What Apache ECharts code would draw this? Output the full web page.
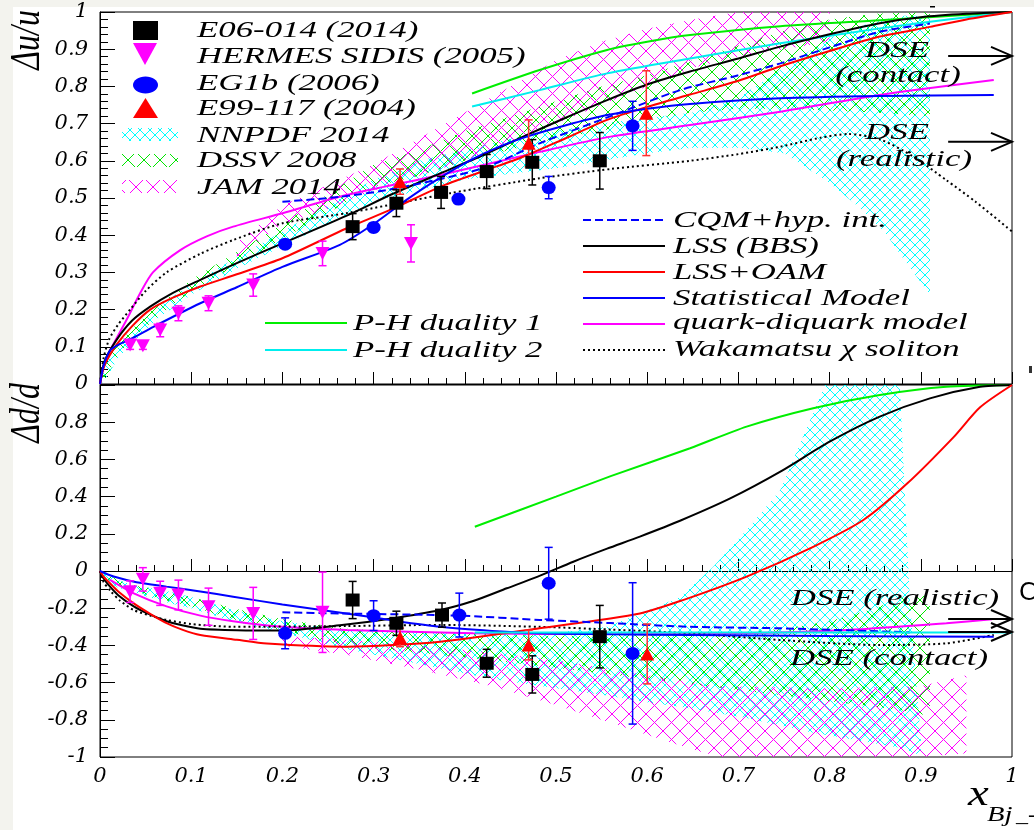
<!DOCTYPE html>
<html><head><meta charset="utf-8">
<script src="https://cdn.jsdelivr.net/npm/echarts@6/dist/echarts.min.js"></script>
<style>html,body{margin:0;padding:0;background:#f3f3ee}#c{width:1034px;height:830px}</style>
</head><body><div id="c"></div>
<script>
// ================= DATA: upper panel (Δu/u) =================
// experimental points: [x, value, error]
const e06_u    = [[0.277,0.423,0.035],[0.325,0.486,0.036],[0.374,0.515,0.043],[0.424,0.571,0.046],[0.474,0.596,0.061],[0.548,0.600,0.076]];
const hermes_u = [[0.033,0.105,0.012],[0.047,0.103,0.010],[0.066,0.145,0.018],[0.086,0.190,0.020],[0.119,0.217,0.020],[0.168,0.266,0.030],[0.244,0.351,0.033],[0.341,0.378,0.050]];
const eg1b_u   = [[0.203,0.376,0.010],[0.300,0.421,0.012],[0.393,0.497,0.012],[0.492,0.528,0.030],[0.584,0.694,0.066]];
const e99_u    = [[0.329,0.544,0.034],[0.470,0.647,0.063],[0.599,0.728,0.114]];
// model curves: [x, value]
const lssBBS_u = [[0,0],[0.005,0.06],[0.018,0.118],[0.035,0.17],[0.055,0.208],[0.08,0.245],[0.11,0.28],[0.15,0.325],[0.2,0.378],[0.27,0.452],[0.32,0.51],[0.373,0.566],[0.42,0.615],[0.464,0.665],[0.51,0.715],[0.556,0.763],[0.6,0.805],[0.647,0.84],[0.7,0.875],[0.746,0.907],[0.8,0.94],[0.855,0.97],[0.9,0.986],[0.95,0.995],[1,1]];
const lssOAM_u = [[0,0],[0.005,0.05],[0.018,0.105],[0.035,0.155],[0.055,0.2],[0.08,0.232],[0.11,0.262],[0.15,0.295],[0.2,0.338],[0.27,0.418],[0.32,0.47],[0.373,0.53],[0.42,0.572],[0.464,0.611],[0.51,0.66],[0.556,0.71],[0.6,0.745],[0.647,0.778],[0.7,0.815],[0.746,0.854],[0.8,0.895],[0.855,0.934],[0.91,0.96],[0.95,0.98],[1,1]];
const cqm_u    = [[0.2,0.49],[0.263,0.503],[0.325,0.526],[0.42,0.58],[0.482,0.647],[0.56,0.72],[0.636,0.79],[0.7,0.83],[0.746,0.862],[0.8,0.905],[0.855,0.947],[0.91,0.969]];
const stat_u   = [[0,0],[0.004,0.05],[0.011,0.09],[0.02,0.105],[0.037,0.125],[0.058,0.153],[0.11,0.217],[0.15,0.26],[0.2,0.315],[0.263,0.374],[0.3,0.43],[0.336,0.495],[0.37,0.55],[0.409,0.605],[0.44,0.64],[0.468,0.665],[0.51,0.695],[0.556,0.723],[0.6,0.74],[0.647,0.753],[0.746,0.768],[0.855,0.774],[0.98,0.777]];
const qd_u     = [[0,0],[0.004,0.05],[0.011,0.09],[0.029,0.172],[0.044,0.244],[0.058,0.3],[0.088,0.36],[0.117,0.397],[0.146,0.423],[0.2,0.459],[0.27,0.508],[0.373,0.562],[0.482,0.624],[0.56,0.665],[0.647,0.696],[0.746,0.732],[0.855,0.777],[0.98,0.817]];
const wak_u    = [[0,0],[0.004,0.07],[0.01,0.12],[0.02,0.16],[0.033,0.2],[0.05,0.25],[0.073,0.3],[0.11,0.35],[0.146,0.387],[0.2,0.432],[0.27,0.459],[0.384,0.513],[0.482,0.553],[0.56,0.578],[0.647,0.6],[0.7,0.618],[0.746,0.638],[0.79,0.662],[0.82,0.672],[0.855,0.658],[0.892,0.611],[0.928,0.548],[0.96,0.49],[1,0.41]];
const ph1_u    = [[0.408,0.781],[0.482,0.844],[0.556,0.898],[0.6,0.92],[0.647,0.938],[0.746,0.962],[0.855,0.978],[1,1]];
const ph2_u    = [[0.408,0.746],[0.482,0.79],[0.556,0.835],[0.647,0.875],[0.746,0.916],[0.855,0.956],[0.93,0.98],[1,1]];
// uncertainty bands: [x, low, high]
const nnpdf_u  = [[0.003,0.0,0.05],[0.02,0.07,0.1],[0.04,0.12,0.15],[0.06,0.17,0.2],[0.1,0.24,0.27],[0.15,0.31,0.34],[0.2,0.37,0.41],[0.25,0.43,0.48],[0.3,0.49,0.55],[0.35,0.52,0.6],[0.4,0.55,0.63],[0.45,0.565,0.66],[0.5,0.58,0.68],[0.55,0.6,0.7],[0.6,0.62,0.715],[0.65,0.635,0.73],[0.7,0.635,0.77],[0.75,0.62,0.85],[0.8,0.54,0.93],[0.83,0.48,0.96],[0.86,0.41,0.98],[0.88,0.34,0.99],[0.91,0.24,0.99]];
const dssv_u   = [[0.003,0.0,0.06],[0.02,0.08,0.11],[0.04,0.13,0.16],[0.06,0.175,0.205],[0.1,0.25,0.28],[0.15,0.32,0.355],[0.2,0.39,0.43],[0.25,0.46,0.51],[0.3,0.53,0.59],[0.35,0.56,0.63],[0.4,0.6,0.68],[0.45,0.63,0.72],[0.5,0.66,0.76],[0.55,0.68,0.8],[0.6,0.71,0.83],[0.65,0.73,0.87],[0.7,0.74,0.91],[0.75,0.74,0.95],[0.8,0.735,0.98],[0.85,0.73,0.995],[0.91,0.72,1.0]];
const jam_u    = [[0.15,0.34,0.38],[0.2,0.43,0.48],[0.25,0.47,0.535],[0.3,0.52,0.59],[0.35,0.56,0.66],[0.4,0.6,0.73],[0.45,0.65,0.8],[0.5,0.7,0.87],[0.55,0.75,0.92],[0.6,0.8,0.955],[0.65,0.85,0.98],[0.7,0.88,1.0],[0.75,0.9,1.0],[0.8,0.92,1.0]];
// DSE predictions at x→1: [x start, x end, value]
const dse_u    = [[0.93,1,0.882],[0.93,1,0.651]];

// ================= DATA: lower panel (Δd/d) =================
const e06_d    = [[0.277,-0.156,0.100],[0.325,-0.281,0.065],[0.375,-0.237,0.065],[0.424,-0.496,0.075],[0.474,-0.556,0.100],[0.548,-0.353,0.168]];
const hermes_d = [[0.033,-0.111,0.058],[0.047,-0.045,0.063],[0.066,-0.120,0.065],[0.086,-0.129,0.080],[0.119,-0.192,0.100],[0.168,-0.228,0.140],[0.244,-0.222,0.216]];
const eg1b_d   = [[0.203,-0.335,0.083],[0.300,-0.240,0.080],[0.394,-0.237,0.118],[0.492,-0.066,0.193],[0.584,-0.443,0.380]];
const e99_d    = [[0.329,-0.357,0.050],[0.470,-0.398,0.080],[0.600,-0.446,0.161]];
const lssBBS_d = [[0,0],[0.004,-0.04],[0.011,-0.084],[0.02,-0.13],[0.037,-0.19],[0.055,-0.235],[0.073,-0.27],[0.09,-0.292],[0.11,-0.31],[0.15,-0.318],[0.2,-0.32],[0.263,-0.292],[0.32,-0.255],[0.373,-0.21],[0.41,-0.16],[0.446,-0.093],[0.48,-0.03],[0.519,0.05],[0.556,0.12],[0.592,0.185],[0.636,0.27],[0.691,0.39],[0.746,0.534],[0.8,0.695],[0.855,0.83],[0.91,0.928],[0.965,0.99],[1,1]];
const lssOAM_d = [[0,0],[0.004,-0.03],[0.011,-0.066],[0.02,-0.11],[0.037,-0.174],[0.055,-0.23],[0.073,-0.28],[0.09,-0.315],[0.11,-0.344],[0.15,-0.37],[0.183,-0.39],[0.27,-0.407],[0.373,-0.38],[0.482,-0.308],[0.592,-0.228],[0.64,-0.155],[0.709,-0.03],[0.782,0.13],[0.837,0.274],[0.885,0.47],[0.936,0.72],[0.965,0.88],[1,1]];
const cqm_d    = [[0.2,-0.222],[0.263,-0.228],[0.394,-0.24],[0.482,-0.263],[0.56,-0.28],[0.647,-0.3],[0.746,-0.308],[0.888,-0.33]];
const stat_d   = [[0,0],[0.015,-0.03],[0.04,-0.06],[0.073,-0.084],[0.11,-0.11],[0.146,-0.138],[0.2,-0.18],[0.27,-0.228],[0.32,-0.265],[0.373,-0.3],[0.43,-0.322],[0.482,-0.335],[0.56,-0.34],[0.647,-0.344],[0.8,-0.35],[0.98,-0.353]];
const qd_d     = [[0.011,-0.048],[0.037,-0.12],[0.073,-0.19],[0.11,-0.24],[0.146,-0.27],[0.2,-0.3],[0.27,-0.317],[0.409,-0.335],[0.556,-0.339],[0.7,-0.335],[0.82,-0.317],[0.928,-0.281],[0.978,-0.26]];
const wak_d    = [[0,0],[0.004,-0.06],[0.012,-0.11],[0.022,-0.16],[0.037,-0.21],[0.055,-0.24],[0.073,-0.263],[0.1,-0.285],[0.146,-0.3],[0.27,-0.296],[0.373,-0.29],[0.482,-0.3],[0.56,-0.315],[0.647,-0.335],[0.746,-0.371],[0.855,-0.398],[0.928,-0.389],[0.98,-0.344]];
const ph1_d    = [[0.411,0.238],[0.5,0.4],[0.56,0.51],[0.647,0.66],[0.709,0.776],[0.782,0.875],[0.855,0.946],[0.928,0.99],[1,1]];
const ph2_d    = [[0.411,-0.33],[1,-0.33]];
const nnpdf_d  = [[0.003,-0.04,0.0],[0.02,-0.09,-0.05],[0.04,-0.12,-0.08],[0.066,-0.16,-0.1],[0.1,-0.2,-0.14],[0.146,-0.27,-0.21],[0.2,-0.33,-0.27],[0.27,-0.42,-0.32],[0.35,-0.5,-0.33],[0.43,-0.58,-0.34],[0.5,-0.63,-0.33],[0.556,-0.67,-0.3],[0.592,-0.7,-0.23],[0.636,-0.73,-0.14],[0.672,-0.76,0.02],[0.709,-0.79,0.22],[0.746,-0.83,0.435],[0.782,-0.87,0.85],[0.795,-0.88,1.0],[0.877,-0.95,1.0],[0.888,-0.97,-0.16],[0.9,-0.99,-0.9]];
const dssv_d   = [[0.003,-0.03,0.0],[0.02,-0.08,-0.05],[0.04,-0.11,-0.08],[0.066,-0.15,-0.1],[0.1,-0.19,-0.14],[0.146,-0.26,-0.2],[0.2,-0.32,-0.26],[0.27,-0.4,-0.31],[0.35,-0.44,-0.33],[0.43,-0.48,-0.34],[0.5,-0.52,-0.35],[0.6,-0.58,-0.34],[0.7,-0.64,-0.33],[0.75,-0.67,-0.31],[0.8,-0.7,-0.27],[0.85,-0.73,-0.2],[0.88,-0.75,-0.14],[0.91,-0.78,-0.13]];
const jam_d    = [[0.2,-0.4,-0.35],[0.27,-0.45,-0.37],[0.35,-0.53,-0.4],[0.43,-0.62,-0.44],[0.5,-0.72,-0.48],[0.55,-0.8,-0.52],[0.6,-0.88,-0.56],[0.65,-0.96,-0.6],[0.68,-1.0,-0.62],[0.8,-1.0,-0.63],[0.9,-1.0,-0.62],[0.95,-0.98,-0.56]];
const dse_d    = [[0.93,1,-0.258],[0.93,1,-0.328]];

// axis tick values
const xTicks = [0,0.1,0.2,0.3,0.4,0.5,0.6,0.7,0.8,0.9,1];

// ================= RENDERING =================
function hatch(color, s) {
  const c = document.createElement('canvas');
  c.width = s; c.height = s;
  const g = c.getContext('2d');
  g.strokeStyle = color; g.lineWidth = 1;
  g.beginPath();
  g.moveTo(-1,-1); g.lineTo(s+1,s+1);
  g.moveTo(s+1,-1); g.lineTo(-1,s+1);
  g.stroke();
  return {image: c, repeat: 'repeat'};
}
const patCyan = hatch('#00ffff', 10);
const patGreen = hatch('#00e600', 16);
const patMag = hatch('#ff00ff', 17);

const SERIF = '"Liberation Serif","Times New Roman",serif';
const LABELFONT = {fontFamily: '"DejaVu Serif",serif', fontStyle: 'italic', fontSize: 21, color: '#000'};

function band(name, data, pat, gi) {
  return {
    type: 'custom', name, data, xAxisIndex: gi, yAxisIndex: gi, clip: true, z: 1, silent: true,
    encode: {x: 0, y: [1, 2]},
    renderItem: function (params, api) {
      if (params.dataIndex !== 0) return;
      const pts = [];
      for (let i = 0; i < data.length; i++) pts.push(api.coord([data[i][0], data[i][2]]));
      for (let i = data.length - 1; i >= 0; i--) pts.push(api.coord([data[i][0], data[i][1]]));
      return {type: 'polygon', shape: {points: pts}, style: {fill: pat, stroke: null}};
    }
  };
}
function curve(name, data, color, gi, dash) {
  return {type: 'line', name, data, xAxisIndex: gi, yAxisIndex: gi, showSymbol: false, symbol: 'none',
    smooth: 0.25, clip: true, z: 4, silent: true,
    lineStyle: {color, width: 2, type: dash || 'solid'}};
}
function errbars(name, data, color, gi) {
  return {
    type: 'custom', name: name + ' err', data, xAxisIndex: gi, yAxisIndex: gi, z: 6, silent: true,
    encode: {x: 0, y: 1},
    renderItem: function (params, api) {
      const x = api.value(0), y = api.value(1), e = api.value(2);
      const t = api.coord([x, y + e]), b = api.coord([x, y - e]);
      const st = {stroke: color, lineWidth: 1.5};
      return {type: 'group', children: [
        {type: 'line', shape: {x1: t[0], y1: t[1], x2: b[0], y2: b[1]}, style: st},
        {type: 'line', shape: {x1: t[0] - 4, y1: t[1], x2: t[0] + 4, y2: t[1]}, style: st},
        {type: 'line', shape: {x1: b[0] - 4, y1: b[1], x2: b[0] + 4, y2: b[1]}, style: st}
      ]};
    }
  };
}
function marks(name, data, symbol, rot, color, gi) {
  return {type: 'scatter', name, data: data.map(d => [d[0], d[1]]), xAxisIndex: gi, yAxisIndex: gi,
    symbol, symbolRotate: rot, symbolSize: [14, 13], itemStyle: {color, opacity: 1}, z: 8, silent: true};
}
function arrows(data, gi) {
  return {
    type: 'custom', name: 'DSE', data, xAxisIndex: gi, yAxisIndex: gi, z: 9, clip: false, silent: true,
    encode: {x: [0, 1], y: 2},
    renderItem: function (params, api) {
      const a = api.coord([api.value(0), api.value(2)]), b = api.coord([api.value(1), api.value(2)]);
      const st = {stroke: '#000', lineWidth: 2, fill: null};
      return {type: 'group', children: [
        {type: 'line', shape: {x1: a[0], y1: a[1], x2: b[0], y2: b[1]}, style: st},
        {type: 'polyline', shape: {points: [[b[0] - 21, b[1] - 9], [b[0], b[1]], [b[0] - 21, b[1] + 9]]}, style: st}
      ]};
    }
  };
}
function gtext(text, x, y, o) {
  o = o || {};
  return {type: 'text', x, y, rotation: o.rot || 0, scaleX: o.sx || 1.45, scaleY: o.sy || 1, z: 100, silent: true,
    style: {text, fill: '#000', fontFamily: o.font || SERIF, fontStyle: o.style || 'italic', fontSize: o.size || 24,
      align: o.align || 'left', verticalAlign: o.va || 'middle'}};
}
function gline(x1, x2, y, color, dash) {
  return {type: 'line', shape: {x1, y1: y, x2, y2: y}, z: 100, silent: true,
    style: {stroke: color, lineWidth: 2, lineDash: dash || null}};
}

const fmt1 = v => String(Math.round(v * 10) / 10);

const xAxisCommon = {
  type: 'value', min: 0, max: 1, interval: 0.1,
  axisLine: {show: true, lineStyle: {color: '#000', width: 1}},
  axisTick: {show: true, inside: true, length: 12, lineStyle: {color: '#000', width: 1}},
  minorTick: {show: true, splitNumber: 5, length: 6, lineStyle: {color: '#000', width: 1}},
  splitLine: {show: false}, minorSplitLine: {show: false}
};

const option = {
  animation: false,
  backgroundColor: '#f3f3ee',
  grid: [
    {left: 100, top: 12, width: 912, height: 372, show: true, borderColor: '#000', borderWidth: 1, backgroundColor: 'transparent', outerBoundsMode: 'none'},
    {left: 100, top: 385, width: 912, height: 372, show: true, borderColor: '#000', borderWidth: 1, backgroundColor: 'transparent', outerBoundsMode: 'none'}
  ],
  xAxis: [
    Object.assign({}, xAxisCommon, {gridIndex: 0, axisLabel: {show: false}}),
    Object.assign({}, xAxisCommon, {gridIndex: 1, axisLabel: Object.assign({show: true, margin: 9,
      formatter: v => (xTicks.some(t => Math.abs(t - v) < 1e-6) ? fmt1(v) : '')}, LABELFONT)})
  ],
  yAxis: [
    {type: 'value', gridIndex: 0, min: 0, max: 1, interval: 0.1,
      axisLine: {show: true, lineStyle: {color: '#000'}},
      axisTick: {show: true, inside: true, length: 15, lineStyle: {color: '#000'}},
      minorTick: {show: true, splitNumber: 5, length: 8, lineStyle: {color: '#000'}},
      splitLine: {show: false},
      axisLabel: Object.assign({margin: 12, formatter: fmt1}, LABELFONT)},
    {type: 'value', gridIndex: 1, min: -1, max: 1, interval: 0.2,
      axisLine: {show: true, lineStyle: {color: '#000'}},
      axisTick: {show: true, inside: true, length: 15, lineStyle: {color: '#000'}},
      minorTick: {show: true, splitNumber: 4, length: 8, lineStyle: {color: '#000'}},
      splitLine: {show: false},
      axisLabel: Object.assign({margin: 12, formatter: v => (v > 0.99 ? '' : fmt1(v))}, LABELFONT)}
  ],
  series: [
    // upper panel
    band('NNPDF 2014', nnpdf_u, patCyan, 0),
    band('DSSV 2008', dssv_u, patGreen, 0),
    band('JAM 2014', jam_u, patMag, 0),
    curve('P-H duality 1', ph1_u, '#00ee00', 0),
    curve('P-H duality 2', ph2_u, '#00eeee', 0),
    curve('quark-diquark model', qd_u, '#ff00ff', 0),
    curve('Wakamatsu χ soliton', wak_u, '#000', 0, [2, 3]),
    curve('LSS (BBS)', lssBBS_u, '#000', 0),
    curve('LSS+OAM', lssOAM_u, '#ff0000', 0),
    curve('Statistical Model', stat_u, '#0000ff', 0),
    curve('CQM+hyp. int.', cqm_u, '#0000ff', 0, [8, 4]),
    errbars('E06-014 (2014)', e06_u, '#000', 0),
    errbars('HERMES SIDIS (2005)', hermes_u, '#ff00ff', 0),
    errbars('EG1b (2006)', eg1b_u, '#0000ff', 0),
    errbars('E99-117 (2004)', e99_u, '#ff3030', 0),
    marks('E06-014 (2014)', e06_u, 'rect', 0, '#000', 0),
    marks('HERMES SIDIS (2005)', hermes_u, 'triangle', 180, '#ff00ff', 0),
    marks('EG1b (2006)', eg1b_u, 'circle', 0, '#0000ff', 0),
    marks('E99-117 (2004)', e99_u, 'triangle', 0, '#ff0000', 0),
    arrows(dse_u, 0),
    // lower panel
    band('NNPDF 2014', nnpdf_d, patCyan, 1),
    band('DSSV 2008', dssv_d, patGreen, 1),
    band('JAM 2014', jam_d, patMag, 1),
    curve('P-H duality 1', ph1_d, '#00ee00', 1),
    curve('quark-diquark model', qd_d, '#ff00ff', 1),
    curve('Wakamatsu χ soliton', wak_d, '#000', 1, [2, 3]),
    curve('LSS (BBS)', lssBBS_d, '#000', 1),
    curve('LSS+OAM', lssOAM_d, '#ff0000', 1),
    curve('Statistical Model', stat_d, '#0000ff', 1),
    curve('CQM+hyp. int.', cqm_d, '#0000ff', 1, [8, 4]),
    curve('P-H duality 2', ph2_d, '#00eeee', 1),
    errbars('E06-014 (2014)', e06_d, '#000', 1),
    errbars('HERMES SIDIS (2005)', hermes_d, '#ff00ff', 1),
    errbars('EG1b (2006)', eg1b_d, '#0000ff', 1),
    errbars('E99-117 (2004)', e99_d, '#ff3030', 1),
    marks('E06-014 (2014)', e06_d, 'rect', 0, '#000', 1),
    marks('HERMES SIDIS (2005)', hermes_d, 'triangle', 180, '#ff00ff', 1),
    marks('EG1b (2006)', eg1b_d, 'circle', 0, '#0000ff', 1),
    marks('E99-117 (2004)', e99_d, 'triangle', 0, '#ff0000', 1),
    arrows(dse_d, 1)
  ],
  graphic: [
    {type: 'rect', shape: {x: 13, y: 7, width: 1021, height: 823}, style: {fill: '#fff'}, z: -100, silent: true},
    // axis titles
    gtext('Δu/u', 28, 10, {rot: Math.PI / 2, align: 'right', size: 32, sx: 1, sy: 1.3}),
    gtext('Δd/d', 28, 383, {rot: Math.PI / 2, align: 'right', size: 32, sx: 1, sy: 1.3}),
    gtext('x', 968, 814, {size: 36, va: 'bottom', sx: 1.3}),
    gtext('Bj', 987, 826, {size: 22, va: 'bottom', sx: 1.3}),
    gtext('_-', 1016, 826, {size: 20, va: 'bottom', sx: 1.2, style: 'normal'}),
    // data legend
    {type: 'rect', shape: {x: 133, y: 21, width: 25, height: 19}, style: {fill: '#000'}, z: 100, silent: true},
    {type: 'polygon', shape: {points: [[133, 43], [157, 43], [145, 65]]}, style: {fill: '#ff00ff'}, z: 100, silent: true},
    {type: 'ellipse', shape: {cx: 145.5, cy: 85, rx: 12.5, ry: 8.5}, style: {fill: '#0000ff'}, z: 100, silent: true},
    {type: 'polygon', shape: {points: [[133, 118], [158, 118], [145.5, 98]]}, style: {fill: '#ff0000'}, z: 100, silent: true},
    {type: 'rect', shape: {x: 122, y: 128, width: 56, height: 13}, style: {fill: patCyan}, z: 100, silent: true},
    {type: 'rect', shape: {x: 122, y: 154, width: 56, height: 13}, style: {fill: patGreen}, z: 100, silent: true},
    {type: 'rect', shape: {x: 122, y: 180, width: 56, height: 13}, style: {fill: patMag}, z: 100, silent: true},
    gtext('E06-014 (2014)', 197, 31),
    gtext('HERMES SIDIS (2005)', 197, 57),
    gtext('EG1b (2006)', 197, 84),
    gtext('E99-117 (2004)', 197, 109),
    gtext('NNPDF 2014', 197, 136),
    gtext('DSSV 2008', 197, 161),
    gtext('JAM 2014', 197, 188),
    // model legend
    gline(583, 665, 220, '#0000ff', [8, 4]),
    gline(583, 665, 246, '#000'),
    gline(583, 665, 272, '#ff0000'),
    gline(583, 665, 298, '#0000ff'),
    gline(583, 665, 324, '#ff00ff'),
    gline(583, 665, 350, '#000', [2, 3]),
    gtext('CQM+hyp. int.', 673, 221),
    gtext('LSS (BBS)', 673, 247),
    gtext('LSS+OAM', 673, 273),
    gtext('Statistical Model', 673, 299),
    gtext('quark-diquark model', 673, 323),
    gtext('Wakamatsu χ soliton', 673, 350),
    gline(265, 347, 323, '#00ee00'),
    gline(265, 347, 350, '#00eeee'),
    gtext('P-H duality 1', 353, 324),
    gtext('P-H duality 2', 353, 351),
    // DSE annotations
    gtext('DSE', 897, 51, {align: 'center'}),
    gtext('(contact)', 898, 76, {align: 'center'}),
    gtext('DSE', 897, 133, {align: 'center'}),
    gtext('(realistic)', 904, 160, {align: 'center'}),
    gtext('DSE (realistic)', 895, 599, {align: 'center'}),
    gtext('DSE (contact)', 889, 659, {align: 'center'}),
    // cropped fragments at the edges
    gtext('C', 1019, 594, {font: '"DejaVu Sans",sans-serif', style: 'normal', size: 24, sx: 1}),
    {type: 'rect', shape: {x: 930, y: 6, width: 5, height: 1.5}, style: {fill: '#000'}, z: 100, silent: true},
    {type: 'rect', shape: {x: 1029, y: 366, width: 3, height: 7}, style: {fill: '#333'}, z: 100, silent: true}
  ]
};

const chart = echarts.init(document.getElementById('c'), null, {renderer: 'canvas'});
chart.setOption(option);
</script>
</body></html>
